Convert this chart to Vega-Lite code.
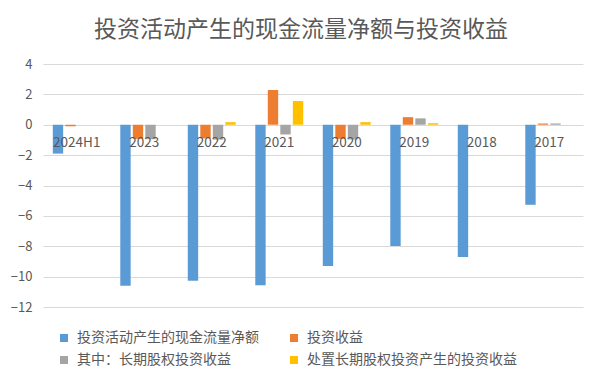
{
  "$schema": "https://vega.github.io/schema/vega-lite/v6.json",
  "width": 540,
  "height": 243,
  "autosize": {"type": "none"},
  "padding": {"left": 43, "top": 64, "right": 19, "bottom": 80},
  "background": "white",
  "config": {
    "font": "Noto Sans CJK SC",
    "view": {"stroke": null}
  },
  "title": {
    "text": "投资活动产生的现金流量净额与投资收益",
    "fontSize": 23,
    "fontWeight": "normal",
    "color": "#595959",
    "anchor": "middle",
    "dx": -12,
    "offset": 16
  },
  "datasets": {
    "bars": [
      {"period": "2024H1", "series": "投资活动产生的现金流量净额", "value": -1.9},
      {"period": "2024H1", "series": "投资收益", "value": -0.1},
      {"period": "2024H1", "series": "其中：长期股权投资收益", "value": 0},
      {"period": "2024H1", "series": "处置长期股权投资产生的投资收益", "value": 0},
      {"period": "2023", "series": "投资活动产生的现金流量净额", "value": -10.6},
      {"period": "2023", "series": "投资收益", "value": -0.93},
      {"period": "2023", "series": "其中：长期股权投资收益", "value": -0.95},
      {"period": "2023", "series": "处置长期股权投资产生的投资收益", "value": 0},
      {"period": "2022", "series": "投资活动产生的现金流量净额", "value": -10.27},
      {"period": "2022", "series": "投资收益", "value": -0.9},
      {"period": "2022", "series": "其中：长期股权投资收益", "value": -0.98},
      {"period": "2022", "series": "处置长期股权投资产生的投资收益", "value": 0.17},
      {"period": "2021", "series": "投资活动产生的现金流量净额", "value": -10.56},
      {"period": "2021", "series": "投资收益", "value": 2.29},
      {"period": "2021", "series": "其中：长期股权投资收益", "value": -0.64},
      {"period": "2021", "series": "处置长期股权投资产生的投资收益", "value": 1.56},
      {"period": "2020", "series": "投资活动产生的现金流量净额", "value": -9.3},
      {"period": "2020", "series": "投资收益", "value": -0.93},
      {"period": "2020", "series": "其中：长期股权投资收益", "value": -0.97},
      {"period": "2020", "series": "处置长期股权投资产生的投资收益", "value": 0.17},
      {"period": "2019", "series": "投资活动产生的现金流量净额", "value": -7.98},
      {"period": "2019", "series": "投资收益", "value": 0.5},
      {"period": "2019", "series": "其中：长期股权投资收益", "value": 0.42},
      {"period": "2019", "series": "处置长期股权投资产生的投资收益", "value": 0.1},
      {"period": "2018", "series": "投资活动产生的现金流量净额", "value": -8.7},
      {"period": "2018", "series": "投资收益", "value": 0},
      {"period": "2018", "series": "其中：长期股权投资收益", "value": 0},
      {"period": "2018", "series": "处置长期股权投资产生的投资收益", "value": 0},
      {"period": "2017", "series": "投资活动产生的现金流量净额", "value": -5.27},
      {"period": "2017", "series": "投资收益", "value": 0.08},
      {"period": "2017", "series": "其中：长期股权投资收益", "value": 0.08},
      {"period": "2017", "series": "处置长期股权投资产生的投资收益", "value": 0}
    ],
    "periods": [
      {"period": "2024H1"}, {"period": "2023"}, {"period": "2022"}, {"period": "2021"},
      {"period": "2020"}, {"period": "2019"}, {"period": "2018"}, {"period": "2017"}
    ]
  },
  "layer": [
    {
      "data": {"name": "bars"},
      "mark": {"type": "bar"},
      "encoding": {
        "x": {
          "field": "period", "type": "nominal",
          "sort": ["2024H1", "2023", "2022", "2021", "2020", "2019", "2018", "2017"],
          "scale": {"paddingInner": 0.29, "paddingOuter": 0.145},
          "axis": null
        },
        "xOffset": {
          "field": "series", "type": "nominal",
          "sort": ["投资活动产生的现金流量净额", "投资收益", "其中：长期股权投资收益", "处置长期股权投资产生的投资收益"],
          "scale": {"paddingInner": 0.17}
        },
        "y": {
          "field": "value", "type": "quantitative",
          "scale": {"domain": [-12, 4], "nice": false, "zero": false},
          "axis": {
            "title": null,
            "values": [-12, -10, -8, -6, -4, -2, 0, 2, 4],
            "tickCount": 9,
            "labelOverlap": false,
            "domain": false,
            "ticks": false,
            "labelPadding": 11,
            "labelFontSize": 13,
            "labelColor": "#595959",
            "gridColor": "#d9d9d9",
            "gridWidth": 1
          }
        },
        "color": {
          "field": "series", "type": "nominal",
          "sort": ["投资活动产生的现金流量净额", "投资收益", "其中：长期股权投资收益", "处置长期股权投资产生的投资收益"],
          "scale": {
            "domain": ["投资活动产生的现金流量净额", "投资收益", "其中：长期股权投资收益", "处置长期股权投资产生的投资收益"],
            "range": ["#5B9BD5", "#ED7D31", "#A5A5A5", "#FFC000"]
          },
          "legend": {
            "title": null,
            "orient": "none",
            "legendX": 14,
            "legendY": 267,
            "direction": "horizontal",
            "columns": 2,
            "columnPadding": 28,
            "rowPadding": 8,
            "symbolType": "square",
            "symbolSize": 64,
            "symbolStrokeWidth": 0,
            "labelFontSize": 14,
            "labelColor": "#595959",
            "labelLimit": 300,
            "labelOffset": 6
          }
        }
      }
    },
    {
      "data": {"name": "periods"},
      "mark": {"type": "text", "fontSize": 13.5, "color": "#595959", "baseline": "middle", "dy": 18},
      "encoding": {
        "x": {"field": "period", "type": "nominal", "sort": ["2024H1", "2023", "2022", "2021", "2020", "2019", "2018", "2017"]},
        "y": {"datum": 0},
        "text": {"field": "period"}
      }
    }
  ]
}
